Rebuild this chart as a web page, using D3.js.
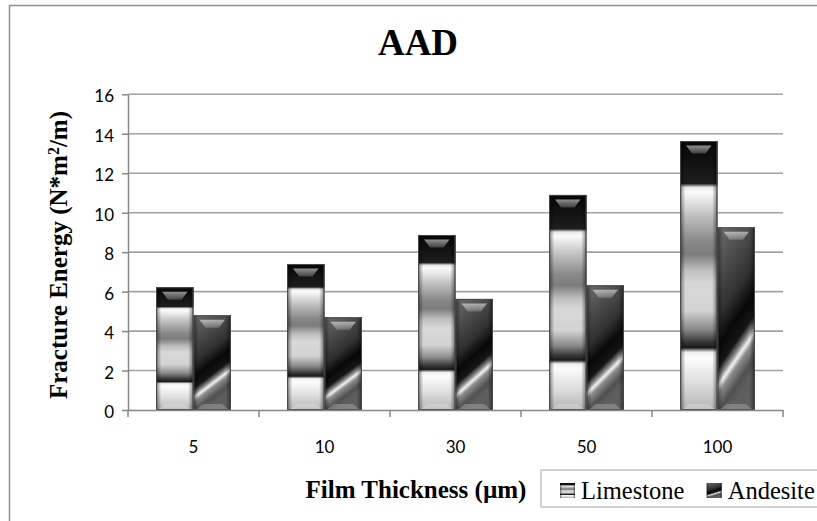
<!DOCTYPE html>
<html>
<head>
<meta charset="utf-8">
<script src="https://cdn.jsdelivr.net/npm/d3@7"></script>
<style>
  html, body { margin: 0; padding: 0; background: #fff; overflow: hidden; }
  svg { display: block; overflow: hidden; }
</style>
</head>
<body>
<script>
// Fracture energy of AAD-aged binder films, by film thickness and aggregate
const categories = ["5", "10", "30", "50", "100"];
const seriesNames = ["Limestone", "Andesite"];
const limestone = [6.22, 7.40, 8.87, 10.90, 13.63];
const andesite = [4.80, 4.70, 5.63, 6.32, 9.26];
const yTicks = [0, 2, 4, 6, 8, 10, 12, 14, 16];

const W = 817, H = 521;
const plot = { left: 128, right: 783, top: 94.3, bottom: 410 };

const svg = d3.select("body").append("svg")
  .attr("width", W).attr("height", H);

const defs = svg.append("defs");

// Chrome-style banded fill for the limestone bars
const limeStops = [
  [0, "#060606"], [0.12, "#181818"], [0.158, "#1e1e1e"], [0.172, "#e6e6e6"],
  [0.19, "#fbfbfb"], [0.27, "#c4c4c4"], [0.37, "#8a8a8a"], [0.42, "#7c7c7c"],
  [0.48, "#bdbdbd"], [0.53, "#d8d8d8"], [0.63, "#d3d3d3"], [0.70, "#8a8a8a"],
  [0.745, "#3a3a3a"], [0.768, "#1a1a1a"], [0.785, "#eeeeee"], [0.805, "#fcfcfc"],
  [0.9, "#dedede"], [1, "#b4b4b4"]
];
const limeGrad = defs.append("linearGradient").attr("id", "limeFill")
  .attr("x1", 0).attr("y1", 0).attr("x2", 0).attr("y2", 1);
limeGrad.selectAll("stop").data(limeStops).join("stop")
  .attr("offset", d => d[0]).attr("stop-color", d => d[1]);

// Dark fill with a diagonal highlight for the andesite bars
const andeStops = [
  [0, "#6c6c6c"], [0.2, "#525252"], [0.45, "#313131"], [0.6, "#080808"],
  [0.71, "#161616"], [0.765, "#8a8a8a"], [0.8, "#f2f2f2"], [0.84, "#8c8c8c"],
  [0.93, "#505050"], [1, "#5e5e5e"]
];
const andeGrad = defs.append("linearGradient").attr("id", "andeFill")
  .attr("x1", 0).attr("y1", 0).attr("x2", 0.3).attr("y2", 1);
andeGrad.selectAll("stop").data(andeStops).join("stop")
  .attr("offset", d => d[0]).attr("stop-color", d => d[1]);

// Side bevel shading
const edgeGrad = defs.append("linearGradient").attr("id", "edgeShade")
  .attr("x1", 0).attr("y1", 0).attr("x2", 1).attr("y2", 0);
[[0, 0.6], [0.05, 0.3], [0.14, 0], [0.86, 0], [0.95, 0.3], [1, 0.6]].forEach(s => {
  edgeGrad.append("stop").attr("offset", s[0])
    .attr("stop-color", "#000").attr("stop-opacity", s[1]);
});

// Top bevel facet
const capGrad = defs.append("linearGradient").attr("id", "capShade")
  .attr("x1", 0).attr("y1", 0).attr("x2", 0).attr("y2", 1);
capGrad.append("stop").attr("offset", 0).attr("stop-color", "#fff").attr("stop-opacity", 0.55);
capGrad.append("stop").attr("offset", 1).attr("stop-color", "#fff").attr("stop-opacity", 0.2);

const fills = { Limestone: "url(#limeFill)", Andesite: "url(#andeFill)" };

// Scales
const x = d3.scaleBand().domain(categories).range([plot.left, plot.right]);
const nSeries = seriesNames.length;
const barW = x.bandwidth() / (nSeries + 1.5);
const xs = d3.scaleBand().domain(seriesNames)
  .range([0.75 * barW, x.bandwidth() - 0.75 * barW]);
const y = d3.scaleLinear().domain([0, 16]).range([plot.bottom, plot.top]);

// Outer chart frame (runs past the right and bottom edges)
svg.append("rect")
  .attr("x", 9.5).attr("y", 5.5).attr("width", W + 40).attr("height", H + 40)
  .attr("fill", "#fff").attr("stroke", "#8e8e8e").attr("stroke-width", 1.5);

// Title
svg.append("text")
  .attr("x", 418).attr("y", 55)
  .attr("text-anchor", "middle")
  .style("font-family", "'Liberation Serif', 'Times New Roman', serif")
  .style("font-weight", "bold").style("font-size", "37px")
  .text("AAD");

// Gridlines
svg.append("g").selectAll("line").data(yTicks.filter(t => t > 0)).join("line")
  .attr("x1", plot.left).attr("x2", plot.right)
  .attr("y1", d => y(d)).attr("y2", d => y(d))
  .attr("stroke", "#a2a2a2").attr("stroke-width", 1.6);

// Y axis
const yAxis = svg.append("g")
  .attr("transform", `translate(${plot.left},0)`)
  .call(d3.axisLeft(y).tickValues(yTicks).tickSize(6).tickSizeOuter(0).tickPadding(8));
yAxis.select(".domain").attr("stroke", "#878787").attr("stroke-width", 1.5);
yAxis.selectAll(".tick line").attr("stroke", "#878787").attr("stroke-width", 1.5);
yAxis.selectAll(".tick text")
  .attr("dy", "0.44em")
  .style("font-family", "Lato, 'Open Sans', sans-serif")
  .style("font-size", "17px").attr("fill", "#000");

// Bars
const rows = categories.map((c, i) => ({ cat: c, values: [
  { series: "Limestone", value: limestone[i] },
  { series: "Andesite", value: andesite[i] }
]}));

const groups = svg.append("g").selectAll("g").data(rows).join("g")
  .attr("transform", d => `translate(${x(d.cat)},0)`);

const bars = groups.selectAll("g.bar").data(d => d.values).join("g").attr("class", "bar");

bars.each(function(d) {
  const g = d3.select(this);
  const bx = xs(d.series), bw = xs.bandwidth();
  const by = y(d.value), bh = y(0) - y(d.value);
  g.append("rect").attr("x", bx).attr("y", by).attr("width", bw).attr("height", bh)
    .attr("fill", fills[d.series]);
  g.append("rect").attr("x", bx).attr("y", by).attr("width", bw).attr("height", bh)
    .attr("fill", "url(#edgeShade)");
  // top facet
  g.append("path")
    .attr("d", `M${bx + 6},${by + 4.5} L${bx + bw - 6},${by + 4.5} L${bx + bw - 12},${by + 12.5} L${bx + 12},${by + 12.5} Z`)
    .attr("fill", "url(#capShade)");
  // bottom facet
  g.append("path")
    .attr("d", `M${bx + 9},${by + bh - 6} L${bx + bw - 9},${by + bh - 6} L${bx + bw - 2},${by + bh} L${bx + 2},${by + bh} Z`)
    .attr("fill", "#fff").attr("fill-opacity", 0.22);
  g.append("rect").attr("x", bx + 0.5).attr("y", by + 0.5)
    .attr("width", bw - 1).attr("height", bh - 1)
    .attr("fill", "none").attr("stroke", "#4a4a4a").attr("stroke-width", 1);
});

// X axis
const xAxis = svg.append("g")
  .attr("transform", `translate(0,${plot.bottom})`)
  .call(d3.axisBottom(x).tickSize(0).tickPadding(31));
xAxis.select(".domain").attr("stroke", "#878787").attr("stroke-width", 1.5);
xAxis.selectAll(".tick text")
  .style("font-family", "Lato, 'Open Sans', sans-serif")
  .style("font-size", "17px").attr("fill", "#000");
const boundaries = categories.map(c => x(c)).concat([x.range()[1]]);
xAxis.append("g").selectAll("line").data(boundaries).join("line")
  .attr("x1", d => d).attr("x2", d => d).attr("y1", 0).attr("y2", 7)
  .attr("stroke", "#878787").attr("stroke-width", 1.5);

// Axis titles
const yTitle = svg.append("text")
  .attr("transform", `translate(67,255) rotate(-90)`)
  .attr("text-anchor", "middle")
  .style("font-family", "'Liberation Serif', 'Times New Roman', serif")
  .style("font-weight", "bold").style("font-size", "25px");
yTitle.append("tspan").text("Fracture Energy (N*m");
yTitle.append("tspan").attr("baseline-shift", "super").style("font-size", "16px").text("2");
yTitle.append("tspan").text("/m)");

svg.append("text")
  .attr("x", 416).attr("y", 498)
  .attr("text-anchor", "middle")
  .style("font-family", "'Liberation Serif', 'Times New Roman', serif")
  .style("font-weight", "bold").style("font-size", "25px")
  .text("Film Thickness (µm)");

// Legend (box runs past the right edge)
const legend = svg.append("g");
legend.append("rect")
  .attr("x", 541).attr("y", 470).attr("width", 320).attr("height", 37)
  .attr("fill", "#fff").attr("stroke", "#c4c4c4").attr("stroke-width", 1.5);
const legendX = d3.scaleOrdinal().domain(seriesNames).range([560, 706.7]);
const items = legend.selectAll("g.item").data(seriesNames).join("g").attr("class", "item")
  .attr("transform", d => `translate(${legendX(d)},483)`);
items.append("rect").attr("width", 15).attr("height", 15).attr("fill", d => fills[d]);
items.append("rect").attr("width", 15).attr("height", 15).attr("fill", "url(#edgeShade)");
items.append("text")
  .attr("x", 21).attr("y", 16)
  .style("font-family", "'Liberation Serif', 'Times New Roman', serif")
  .style("font-size", "24.5px")
  .text(d => d);
</script>
</body>
</html>
